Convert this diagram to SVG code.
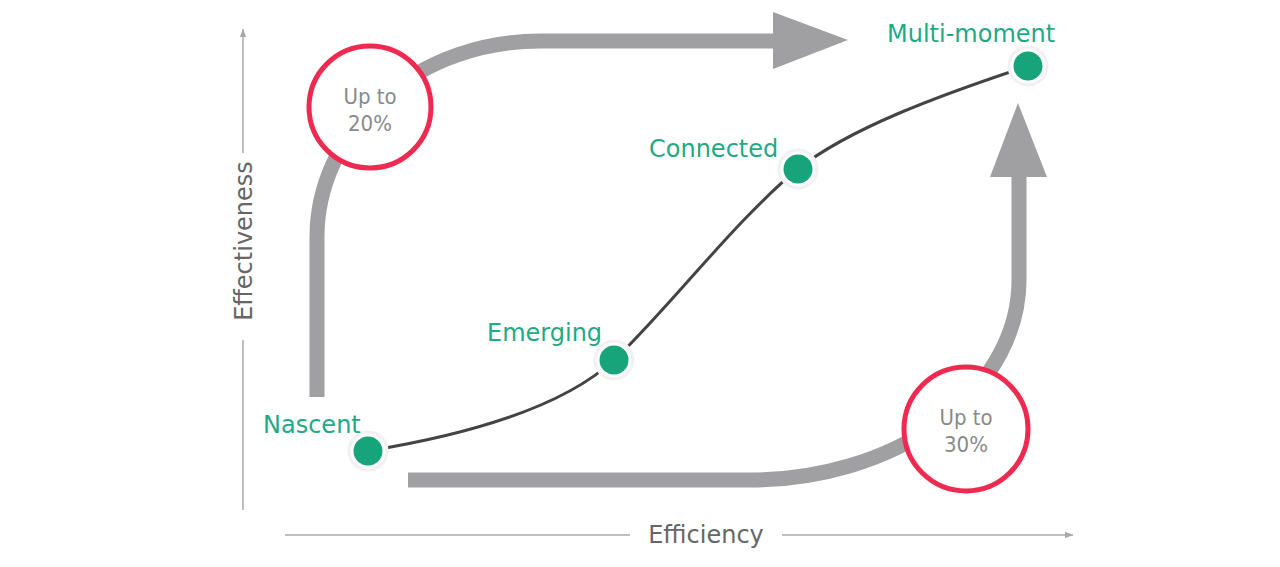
<svg xmlns="http://www.w3.org/2000/svg" width="1280" height="567" viewBox="0 0 1280 567">
<defs>
<style>
.axis{stroke:#a8a8a8;stroke-width:1.5;fill:none}
.axtxt{font-family:"DejaVu Sans","Liberation Sans",sans-serif;font-size:24px;fill:#666666}
.big{stroke:#a0a0a2;stroke-width:15;fill:none;stroke-linecap:butt}
.head{fill:#a0a0a2}
.ring{fill:#ffffff;stroke:#ef2a50;stroke-width:5}
.ctxt{font-family:"DejaVu Sans Condensed","Liberation Sans",sans-serif;font-size:22px;fill:#8a8a8a;text-anchor:middle}
.curve{stroke:#444444;stroke-width:3;fill:none}
.halo{fill:#ffffff;stroke:#f1f1f1;stroke-width:3}
.dot{fill:#17a47b}
.lbl{font-family:"DejaVu Sans","Liberation Sans",sans-serif;font-size:24px;fill:#1fa985}
</style>
<marker id="ah" viewBox="0 0 10 10" refX="10" refY="5" markerWidth="8" markerHeight="8" markerUnits="userSpaceOnUse" orient="auto">
<path d="M0,1 L10,5 L0,9 Z" fill="#a8a8a8"/>
</marker>
</defs>

<g id="axes">
<line class="axis" x1="243" y1="153" x2="243" y2="29" marker-end="url(#ah)"/>
<line class="axis" x1="243" y1="340" x2="243" y2="510"/>
<text class="axtxt" text-anchor="middle" transform="translate(252,241) rotate(-90)">Effectiveness</text>
<line class="axis" x1="285" y1="535" x2="630" y2="535"/>
<line class="axis" x1="782" y1="535" x2="1073" y2="535" marker-end="url(#ah)"/>
<text class="axtxt" x="706" y="543" text-anchor="middle">Efficiency</text>
</g>

<g id="connectors">
<path class="big" d="M317,397 L317,237 A223,196 0 0 1 540,41 L776,41"/>
<polygon class="head" points="773,12 848,40 773,69"/>
<path class="big" d="M408,480 L750,480 A269,200 0 0 0 1019,280 L1019,175"/>
<polygon class="head" points="990,177 1018,103 1047,177"/>
<path class="curve" d="M368,451 C460,436 560,410 614,360 C660,318 740,215 798,169 C850,128 940,95 1028,66"/>
</g>

<g id="gain-20">
<circle class="ring" cx="370" cy="107" r="61"/>
<text class="ctxt" x="370" y="104">Up to</text>
<text class="ctxt" x="370" y="131">20%</text>
</g>

<g id="gain-30">
<circle class="ring" cx="966" cy="429" r="62"/>
<text class="ctxt" x="966" y="425">Up to</text>
<text class="ctxt" x="966" y="452">30%</text>
</g>

<g id="nascent">
<circle class="halo" cx="368" cy="451" r="19"/>
<circle class="dot" cx="368" cy="451" r="14.5"/>
<text class="lbl" x="263" y="433">Nascent</text>
</g>

<g id="emerging">
<circle class="halo" cx="614" cy="360" r="19"/>
<circle class="dot" cx="614" cy="360" r="14.5"/>
<text class="lbl" x="487" y="341">Emerging</text>
</g>

<g id="connected">
<circle class="halo" cx="798" cy="169" r="19"/>
<circle class="dot" cx="798" cy="169" r="14.5"/>
<text class="lbl" x="649" y="157">Connected</text>
</g>

<g id="multi-moment">
<circle class="halo" cx="1028" cy="66" r="19"/>
<circle class="dot" cx="1028" cy="66" r="14.5"/>
<text class="lbl" x="887" y="42">Multi-moment</text>
</g>
</svg>
